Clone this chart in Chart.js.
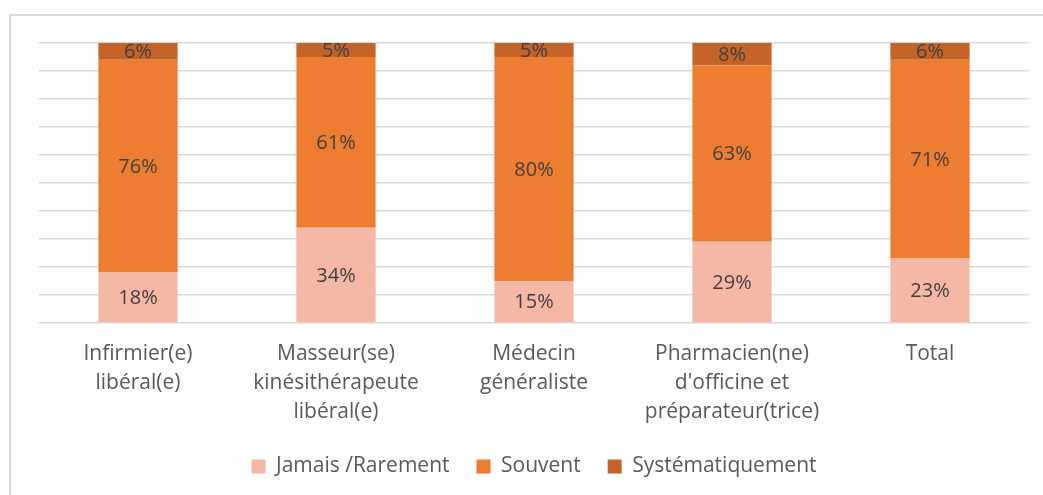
<!DOCTYPE html>
<html>
<head>
<meta charset="utf-8">
<script src="https://cdn.jsdelivr.net/npm/chart.js@4/dist/chart.umd.min.js"></script>
<style>
  html, body { margin: 0; padding: 0; background: #fff; }
  #wrap { position: relative; width: 1043px; height: 495px; overflow: hidden; }
  #cadre { position: absolute; left: 9px; top: 14px; width: 1100px; height: 600px;
           border-left: 2px solid #d9d9d9; border-top: 2px solid #d9d9d9; }
  #myChart { position: absolute; left: 0; top: 0; }
</style>
</head>
<body>
<div id="wrap">
  <div id="cadre"></div>
  <canvas id="myChart" width="1043" height="495"></canvas>
</div>
<script>
const categories = [
  ["Infirmier(e)", "libéral(e)"],
  ["Masseur(se)", "kinésithérapeute", "libéral(e)"],
  ["Médecin", "généraliste"],
  ["Pharmacien(ne)", "d'officine et", "préparateur(trice)"],
  ["Total"]
]
const jamais = [18, 34, 15, 29, 23]
const souvent = [76, 61, 80, 63, 71]
const systematique = [6, 5, 5, 8, 6]

const police = "'Open Sans', Lato, sans-serif"

// etiquettes au centre de chaque segment
const etiquettes = {
  id: "etiquettes",
  afterDatasetsDraw(chart) {
    const ctx = chart.ctx
    ctx.save()
    ctx.font = "20px " + police
    ctx.fillStyle = "#404040"
    ctx.textAlign = "center"
    ctx.textBaseline = "middle"
    chart.data.datasets.forEach((ds, i) => {
      chart.getDatasetMeta(i).data.forEach((bar, j) => {
        const y = (bar.y + bar.base) / 2
        ctx.fillText(ds.data[j] + "%", bar.x, y + 1)
      })
    })
    ctx.restore()
  }
}

var graf = document.getElementById("myChart").getContext("2d")

const data = {
  labels: categories,
  datasets: [
    { label: "Jamais /Rarement", data: jamais, backgroundColor: "#f4b8a4" },
    { label: "Souvent", data: souvent, backgroundColor: "#ed7d31" },
    { label: "Systématiquement", data: systematique, backgroundColor: "#c46428" }
  ]
}

const config = {
  type: "bar",
  data,
  options: {
    responsive: false,
    animation: false,
    layout: { padding: { left: 39, right: 14, top: 43, bottom: 8 } },
    datasets: { bar: { categoryPercentage: 1, barPercentage: 0.4 } },
    scales: {
      x: {
        stacked: true,
        grid: { display: false },
        border: { display: false },
        afterFit: (s) => { s.height = 106 },
        ticks: {
          color: "#595959",
          font: { family: police, size: 21, lineHeight: 1.38 },
          padding: 9,
          maxRotation: 0,
          autoSkip: false
        }
      },
      y: {
        stacked: true,
        min: 0,
        max: 100,
        ticks: { display: false, stepSize: 10 },
        border: { display: false },
        grid: { color: "#d9d9d9", lineWidth: 1.5, drawTicks: false }
      }
    },
    plugins: {
      tooltip: { enabled: false },
      legend: {
        position: "bottom",
        labels: {
          color: "#595959",
          font: { family: police, size: 21 },
          boxWidth: 14,
          boxHeight: 14,
          padding: 27
        }
      }
    }
  },
  plugins: [etiquettes]
}

var myChart = new Chart(graf, config)
</script>
</body>
</html>
